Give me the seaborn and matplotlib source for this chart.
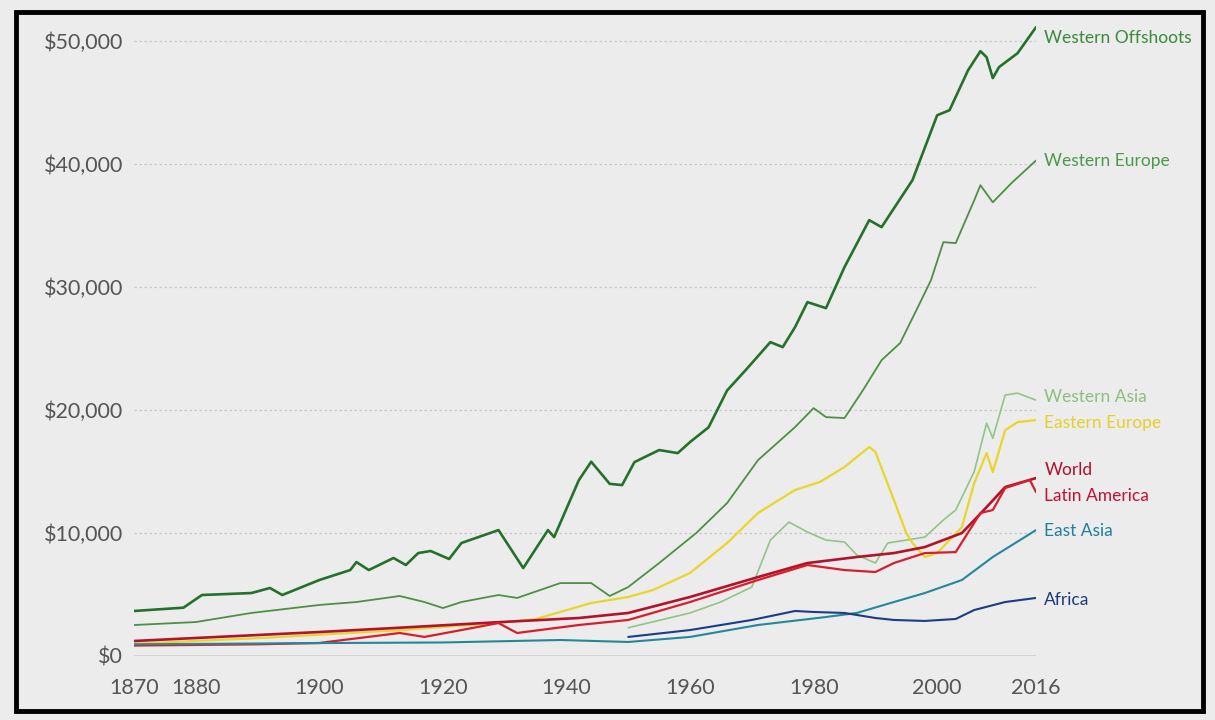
import pandas as pd
import matplotlib.pyplot as plt
import seaborn as sns
from matplotlib.patches import Rectangle

# GDP per capita by world region
wo_years = [1870, 1878, 1881, 1889, 1892, 1894, 1900, 1905, 1906, 1908, 1912, 1914, 1916, 1918,
            1921, 1923, 1929, 1933, 1937, 1938, 1942, 1944, 1947, 1949, 1951, 1955, 1958, 1960,
            1963, 1966, 1969, 1973, 1975, 1977, 1979, 1982, 1985, 1989, 1991, 1996, 2000, 2002,
            2005, 2007, 2008, 2009, 2010, 2013, 2016]
wo_vals = [3660, 3930, 4960, 5120, 5530, 4960, 6180, 6990, 7640, 6990, 7970, 7400, 8370, 8540,
           7890, 9190, 10240, 7150, 10240, 9670, 14300, 15800, 14000, 13900, 15770, 16750, 16500, 17400,
           18600, 21600, 23250, 25530, 25120, 26750, 28780, 28290, 31630, 35450, 34880, 38700, 43980, 44390,
           47640, 49190, 48700, 47000, 47890, 49020, 51140]

we_years = [1870, 1880, 1889, 1900, 1906, 1913, 1917, 1920, 1923, 1929, 1932, 1939, 1944, 1947,
            1950, 1955, 1961, 1966, 1971, 1977, 1980, 1982, 1985, 1988, 1991, 1994, 1997, 1999,
            2001, 2003, 2006, 2007, 2009, 2012, 2016]
we_vals = [2520, 2760, 3500, 4150, 4390, 4880, 4390, 3900, 4390, 4960, 4720, 5930, 5930, 4880,
           5610, 7560, 10000, 12440, 15930, 18620, 20160, 19430, 19350, 21630, 24060, 25450, 28500, 30570,
           33660, 33580, 37070, 38290, 36900, 38450, 40300]

wa_years = [1950, 1955, 1960, 1965, 1970, 1973, 1976, 1979, 1982, 1985, 1987, 1990, 1992, 1995,
            1998, 2001, 2003, 2006, 2008, 2009, 2011, 2013, 2016]
wa_vals = [2300, 2900, 3500, 4400, 5610, 9430, 10890, 10080, 9430, 9270, 8210, 7560, 9190, 9430,
           9670, 11060, 11870, 15000, 18940, 17720, 21220, 21380, 20810]

ee_years = [1870, 1890, 1913, 1929, 1935, 1939, 1944, 1950, 1954, 1960, 1966, 1971, 1977, 1981,
            1985, 1989, 1990, 1993, 1995, 1996, 1998, 2000, 2004, 2006, 2008, 2009, 2011, 2013, 2016]
ee_vals = [1000, 1450, 2100, 2700, 3000, 3580, 4310, 4800, 5370, 6750, 9190, 11630, 13500, 14150,
           15370, 17000, 16590, 12680, 10000, 9190, 8050, 8370, 10490, 14060, 16500, 14960, 18370, 19020, 19190]

world_years = [1870, 1900, 1913, 1929, 1942, 1950, 1960, 1971, 1979, 1987, 1993, 1998, 2004, 2008, 2011, 2016]
world_vals = [1220, 1950, 2300, 2750, 3090, 3500, 4800, 6420, 7560, 8050, 8370, 8860, 10000, 12110, 13740, 14470]

la_years = [1870, 1890, 1900, 1913, 1917, 1923, 1929, 1932, 1942, 1950, 1960, 1971, 1979, 1985,
            1990, 1993, 1996, 1998, 2003, 2007, 2009, 2011, 2015, 2016]
la_vals = [850, 950, 1060, 1870, 1550, 2110, 2680, 1870, 2520, 2930, 4390, 6180, 7400, 6990,
           6830, 7560, 8050, 8370, 8450, 11630, 11870, 13660, 14310, 13330]

ea_years = [1870, 1900, 1920, 1939, 1950, 1960, 1971, 1982, 1987, 1993, 1998, 2004, 2009, 2016]
ea_vals = [950, 1050, 1100, 1300, 1140, 1550, 2520, 3170, 3500, 4390, 5120, 6180, 8050, 10240]

af_years = [1950, 1960, 1970, 1977, 1980, 1985, 1990, 1993, 1998, 2003, 2006, 2011, 2016]
af_vals = [1550, 2110, 2930, 3660, 3580, 3500, 3090, 2930, 2850, 3010, 3740, 4390, 4720]

x_ticks = [1870, 1880, 1900, 1920, 1940, 1960, 1980, 2000, 2016]
y_ticks = [0, 10000, 20000, 30000, 40000, 50000]
y_labels = ['$0', '$10,000', '$20,000', '$30,000', '$40,000', '$50,000']

# name, years, values, line colour, label colour, label y, linewidth
series = [
    ('Western Offshoots', wo_years, wo_vals, '#25702a', '#3a8a3a', 50250, 1.9),
    ('Western Europe', we_years, we_vals, '#4f8f45', '#4a9a4a', 40240, 1.3),
    ('Western Asia', wa_years, wa_vals, '#93c487', '#8cc07c', 21060, 1.2),
    ('Eastern Europe', ee_years, ee_vals, '#e8d62a', '#e6cf2a', 18940, 1.6),
    ('World', world_years, world_vals, '#b3122b', '#b0102a', 15120, 1.9),
    ('Latin America', la_years, la_vals, '#d81e2c', '#c8102e', 13010, 1.6),
    ('East Asia', ea_years, ea_vals, '#23899a', '#1f7f9f', 10160, 1.5),
    ('Africa', af_years, af_vals, '#1c3c86', '#1f3a7a', 4550, 1.5),
]

sns.set_style('white')
plt.rcParams['font.family'] = ['Lato', 'DejaVu Sans']

fig = plt.figure(figsize=(12.15, 7.2), dpi=100, facecolor='#ececec')
ax = fig.add_axes([0.1103, 0.0889, 0.7424, 0.888])
ax.set_facecolor('#ececec')

for name, yrs, vals, col, lcol, ly, lw in series:
    df = pd.DataFrame({'year': yrs, 'gdp': vals})
    sns.lineplot(data=df, x='year', y='gdp', color=col, linewidth=lw, ax=ax)
    ax.annotate(name, xy=(2016, ly), xytext=(6, 0), textcoords='offset points',
                color=lcol, fontsize=12.5, va='center', ha='left', annotation_clip=False)

ax.set_xlim(1870, 2016)
ax.set_ylim(0, 52000)
ax.set_xticks(x_ticks)
ax.set_yticks(y_ticks)
ax.set_yticklabels(y_labels)
ax.set_xlabel('')
ax.set_ylabel('')
ax.tick_params(axis='both', length=0, labelsize=15.5, labelcolor='#555555')
ax.tick_params(axis='x', pad=16)
ax.tick_params(axis='y', pad=8)

for v in y_ticks[1:]:
    ax.axhline(v, color='#c9c9c9', linewidth=0.9, linestyle=(0, (2, 2)), zorder=0)
ax.axhline(0, color='#cfcfcf', linewidth=1.2, zorder=0)

for s in ax.spines.values():
    s.set_visible(False)

fig.patches.append(Rectangle((0.013, 0.012), 0.977, 0.972, transform=fig.transFigure,
                             fill=False, edgecolor='black', linewidth=3.5))

plt.savefig('out.png', dpi=100, facecolor=fig.get_facecolor())
